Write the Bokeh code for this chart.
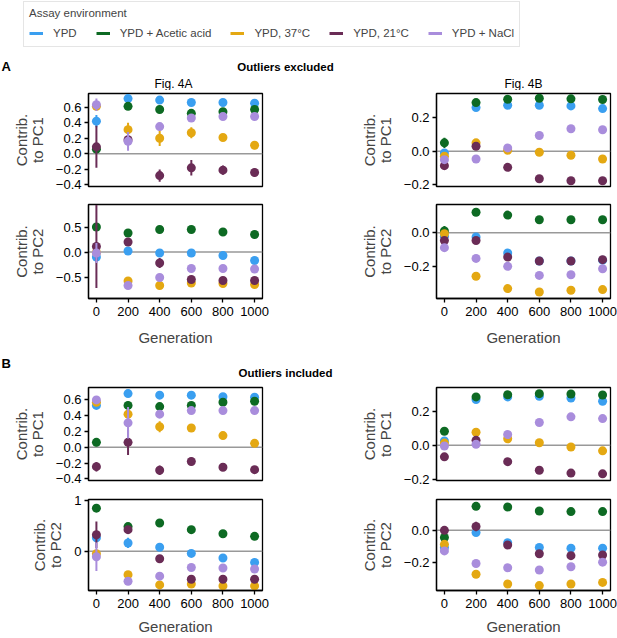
import numpy as np
from bokeh.plotting import figure
from bokeh.models import Range1d, FixedTicker, Span, Label, Legend, LegendItem, ColumnDataSource, Spacer
from bokeh.layouts import column, row
from bokeh.embed import file_html
from bokeh.resources import INLINE

FONT = "Liberation Sans"

# ---------------- data ----------------
generations = [0, 200, 400, 600, 800, 1000]
conditions = ["YPD", "YPD + Acetic acid", "YPD, 37°C", "YPD, 21°C", "YPD + NaCl"]
colors = ["#3a9ff0", "#0d6a23", "#e4a812", "#6a2c56", "#a98ddc"]
x_ticks = [0, 200, 400, 600, 800, 1000]
x_tick_labels = ["0", "200", "400", "600", "800", "1000"]

# Outliers excluded, Fig. 4A, PC1  (order: YPD, Acetic, 37C, 21C, NaCl)
excl_4A_pc1 = [[0.42, 0.71, 0.69, 0.66, 0.66, 0.65],
               [0.06, 0.61, 0.57, 0.52, 0.54, 0.57],
               [0.61, 0.31, 0.20, 0.27, 0.21, 0.11],
               [0.09, 0.18, -0.28, -0.18, -0.21, -0.24],
               [0.63, 0.16, 0.35, 0.46, 0.48, 0.48]]
excl_4A_pc1_err = [[0.08, 0.02, 0.02, 0.02, 0.02, 0.02],
                   [0.04, 0.04, 0.03, 0.03, 0.03, 0.03],
                   [0.05, 0.09, 0.10, 0.07, 0.04, 0.05],
                   [0.27, 0.05, 0.08, 0.10, 0.06, 0.05],
                   [0.08, 0.12, 0.05, 0.03, 0.03, 0.03]]
excl_4A_pc2 = [[-0.10, 0.02, -0.02, -0.02, -0.07, -0.17],
               [0.50, 0.38, 0.45, 0.45, 0.40, 0.35],
               [-0.01, -0.58, -0.67, -0.62, -0.63, -0.65],
               [0.11, 0.20, -0.22, -0.55, -0.57, -0.57],
               [-0.02, -0.67, -0.51, -0.33, -0.33, -0.34]]
excl_4A_pc2_err = [[0.05, 0.07, 0.03, 0.03, 0.03, 0.03],
                   [0.05, 0.06, 0.06, 0.03, 0.03, 0.03],
                   [0.03, 0.03, 0.03, 0.03, 0.03, 0.03],
                   [0.83, 0.05, 0.10, 0.03, 0.03, 0.03],
                   [0.20, 0.03, 0.03, 0.03, 0.03, 0.03]]
excl_4B_pc1 = [[-0.01, 0.26, 0.274, 0.274, 0.27, 0.254],
               [0.05, 0.29, 0.31, 0.316, 0.312, 0.308],
               [-0.03, 0.05, 0.006, -0.006, -0.024, -0.046],
               [-0.086, 0.03, -0.096, -0.164, -0.176, -0.176],
               [-0.05, -0.046, 0.02, 0.094, 0.134, 0.128]]
excl_4B_pc1_err = [[0.02, 0.01, 0.01, 0.01, 0.01, 0.01],
                   [0.03, 0.01, 0.01, 0.01, 0.01, 0.01],
                   [0.01, 0.01, 0.01, 0.01, 0.01, 0.01],
                   [0.015, 0.01, 0.01, 0.01, 0.01, 0.01],
                   [0.01, 0.01, 0.01, 0.01, 0.01, 0.01]]
excl_4B_pc2 = [[-0.02, -0.025, -0.118, -0.165, -0.165, -0.16],
               [0.01, 0.12, 0.103, 0.076, 0.076, 0.076],
               [-0.006, -0.254, -0.326, -0.346, -0.336, -0.332],
               [-0.045, -0.045, -0.142, -0.165, -0.165, -0.157],
               [-0.087, -0.15, -0.196, -0.249, -0.245, -0.21]]
excl_4B_pc2_err = [[0.01, 0.01, 0.01, 0.01, 0.01, 0.01],
                   [0.03, 0.01, 0.01, 0.01, 0.01, 0.01],
                   [0.01, 0.02, 0.01, 0.01, 0.01, 0.01],
                   [0.01, 0.02, 0.02, 0.01, 0.01, 0.01],
                   [0.02, 0.01, 0.01, 0.01, 0.01, 0.01]]

# Outliers included
incl_4A_pc1 = [[0.53, 0.68, 0.66, 0.66, 0.64, 0.634],
               [0.063, 0.53, 0.515, 0.53, 0.57, 0.583],
               [0.57, 0.42, 0.26, 0.245, 0.148, 0.05],
               [-0.245, 0.063, -0.29, -0.18, -0.253, -0.283],
               [0.60, 0.31, 0.42, 0.465, 0.465, 0.465]]
incl_4A_pc1_err = [[0.02, 0.02, 0.02, 0.02, 0.02, 0.02],
                   [0.05, 0.05, 0.03, 0.03, 0.03, 0.03],
                   [0.03, 0.03, 0.07, 0.03, 0.03, 0.03],
                   [0.06, 0.16, 0.06, 0.05, 0.03, 0.03],
                   [0.03, 0.20, 0.03, 0.03, 0.03, 0.03]]
incl_4A_pc2 = [[0.26, 0.16, 0.077, -0.045, -0.135, -0.22],
               [0.84, 0.48, 0.55, 0.42, 0.34, 0.29],
               [-0.05, -0.46, -0.66, -0.645, -0.68, -0.68],
               [0.32, 0.42, -0.15, -0.55, -0.55, -0.55],
               [-0.11, -0.59, -0.49, -0.32, -0.33, -0.35]]
incl_4A_pc2_err = [[0.03, 0.10, 0.03, 0.03, 0.03, 0.03],
                   [0.07, 0.04, 0.03, 0.03, 0.03, 0.03],
                   [0.03, 0.03, 0.03, 0.03, 0.03, 0.03],
                   [0.26, 0.04, 0.07, 0.03, 0.03, 0.03],
                   [0.28, 0.03, 0.03, 0.03, 0.03, 0.03]]
incl_4B_pc1 = [[0.025, 0.267, 0.282, 0.286, 0.276, 0.257],
               [0.082, 0.282, 0.295, 0.301, 0.299, 0.293],
               [0.013, 0.076, 0.038, 0.015, -0.01, -0.032],
               [-0.067, 0.029, -0.095, -0.145, -0.162, -0.166],
               [-0.004, 0.006, 0.063, 0.133, 0.166, 0.156]]
incl_4B_pc1_err = [[0.01, 0.01, 0.01, 0.01, 0.01, 0.01],
                   [0.01, 0.01, 0.01, 0.01, 0.01, 0.01],
                   [0.01, 0.01, 0.01, 0.01, 0.01, 0.01],
                   [0.02, 0.01, 0.01, 0.01, 0.01, 0.01],
                   [0.01, 0.01, 0.01, 0.01, 0.01, 0.01]]
incl_4B_pc2 = [[-0.108, -0.014, -0.078, -0.108, -0.112, -0.112],
               [-0.045, 0.151, 0.147, 0.122, 0.118, 0.118],
               [-0.088, -0.276, -0.337, -0.347, -0.337, -0.327],
               [0.0, 0.024, -0.092, -0.147, -0.159, -0.155],
               [-0.129, -0.208, -0.235, -0.249, -0.229, -0.2]]
incl_4B_pc2_err = [[0.01, 0.01, 0.01, 0.01, 0.01, 0.01],
                   [0.01, 0.01, 0.01, 0.01, 0.01, 0.01],
                   [0.01, 0.01, 0.01, 0.01, 0.01, 0.01],
                   [0.02, 0.03, 0.02, 0.01, 0.01, 0.01],
                   [0.01, 0.01, 0.01, 0.01, 0.01, 0.01]]

# y-axis ranges and ticks per panel
yr_excl_4A_pc1 = (-0.42, 0.775)
yr_excl_4A_pc2 = (-0.93, 0.95)
yr_excl_4B_pc1 = (-0.21, 0.344)
yr_excl_4B_pc2 = (-0.384, 0.165)
yr_incl_4A_pc1 = (-0.42, 0.757)
yr_incl_4A_pc2 = (-0.77, 1.01)
yr_incl_4B_pc1 = (-0.205, 0.337)
yr_incl_4B_pc2 = (-0.378, 0.194)

ticks_pc1_4A = [-0.4, -0.2, 0.0, 0.2, 0.4, 0.6]
labels_pc1_4A = ["\u22120.4", "\u22120.2", "0.0", "0.2", "0.4", "0.6"]
ticks_excl_pc2_4A = [-0.5, 0.0, 0.5]
labels_excl_pc2_4A = ["\u22120.5", "0.0", "0.5"]
ticks_4B_pc1 = [-0.2, 0.0, 0.2]
labels_4B_pc1 = ["\u22120.2", "0.0", "0.2"]
ticks_4B_pc2 = [-0.2, 0.0]
labels_4B_pc2 = ["\u22120.2", "0.0"]
ticks_incl_pc2_4A = [0, 1]
labels_incl_pc2_4A = ["0", "1"]

PAGE_W = 617
LEG_LEFT = 23


def panel(vals, errs, yr, yticks, ylabels, ylabel, show_x, left_col, height, bt, bb, xstand=10):
    if left_col:
        width, bl, br = 346, 88, 84
    else:
        width, bl, br = 271, 90, 7
    p = figure(width=width, height=height, title=None,
               x_range=Range1d(-50, 1050), y_range=Range1d(*yr),
               output_backend="svg", toolbar_location=None,
               min_border_left=bl, min_border_right=br,
               min_border_top=bt, min_border_bottom=bb)
    p.grid.visible = False
    p.outline_line_color = "black"
    p.outline_line_width = 1.3
    p.outline_line_alpha = 1.0
    p.background_fill_color = "white"
    p.border_fill_color = "white"

    p.add_layout(Span(location=0, dimension="width", line_color="#999999",
                      line_width=1.5, level="underlay"))

    for vs, es, c in zip(vals, errs, colors):
        src = ColumnDataSource(dict(
            x=generations, y=vs,
            lo=[v - e for v, e in zip(vs, es)],
            hi=[v + e for v, e in zip(vs, es)]))
        p.segment(x0="x", y0="lo", x1="x", y1="hi", source=src,
                  line_color=c, line_width=2)
        p.scatter(x="x", y="y", source=src, size=9, fill_color=c,
                  line_color=None)

    ya = p.yaxis[0]
    ya.ticker = FixedTicker(ticks=yticks)
    ya.major_label_overrides = {t: l for t, l in zip(yticks, ylabels)}
    ya.axis_label = ylabel
    ya.axis_label_text_font = FONT
    ya.axis_label_text_font_size = "15px"
    ya.axis_label_text_font_style = "normal"
    ya.axis_label_text_line_height = 0.95
    ya.axis_label_standoff = 7
    ya.major_label_text_font = FONT
    ya.major_label_text_font_size = "13px"
    ya.major_label_text_color = "black"
    ya.major_label_standoff = 3
    ya.major_tick_out = 4
    ya.major_tick_in = 0
    ya.major_tick_line_width = 1.3
    ya.minor_tick_line_color = None
    ya.axis_line_width = 1.3

    xa = p.xaxis[0]
    if show_x:
        xa.ticker = FixedTicker(ticks=x_ticks)
        xa.major_label_overrides = {t: l for t, l in zip(x_ticks, x_tick_labels)}
        xa.axis_label = "Generation"
        xa.axis_label_text_font = FONT
        xa.axis_label_text_font_size = "15px"
        xa.axis_label_text_font_style = "normal"
        xa.axis_label_standoff = xstand
        xa.major_label_text_font = FONT
        xa.major_label_text_font_size = "13px"
        xa.major_label_text_color = "black"
        xa.major_label_standoff = 4
        xa.major_tick_out = 4
        xa.major_tick_in = 0
        xa.major_tick_line_width = 1.3
        xa.minor_tick_line_color = None
        xa.axis_line_width = 1.3
    else:
        xa.visible = False
    return p


def header(h, texts):
    p = figure(width=PAGE_W, height=h, title=None,
               x_range=Range1d(0, PAGE_W), y_range=Range1d(0, h),
               output_backend="svg", toolbar_location=None,
               min_border=0, min_border_left=0, min_border_right=0,
               min_border_top=0, min_border_bottom=0,
               x_axis_type=None, y_axis_type=None)
    p.outline_line_color = None
    p.background_fill_color = "white"
    p.border_fill_color = "white"
    for txt, x, y, bold, size, align in texts:
        p.add_layout(Label(x=x, y=h - y, x_units="screen", y_units="screen",
                           text=txt, text_font=FONT,
                           text_font_size=size,
                           text_font_style="bold" if bold else "normal",
                           text_align=align, text_baseline="middle",
                           text_color="black"))
    return p


# ---------------- legend band ----------------
leg = figure(width=PAGE_W - LEG_LEFT, height=49, title=None,
             x_range=Range1d(0, 1), y_range=Range1d(0, 1),
             output_backend="svg", toolbar_location=None,
             min_border=0, min_border_left=0, min_border_right=0, min_border_top=1,
             min_border_bottom=0, x_axis_type=None, y_axis_type=None)
leg.outline_line_color = None
leg.background_fill_color = "white"
leg.border_fill_color = "white"
items = []
nan2 = np.array([np.nan, np.nan])
for name, c in zip(conditions, colors):
    r = leg.line(x=nan2, y=nan2, line_color=c, line_width=3)
    items.append(LegendItem(label=name, renderers=[r]))
legend = Legend(items=items, orientation="horizontal", location="top_left",
                title="Assay environment", title_text_font=FONT,
                title_text_font_size="11.5px", title_text_font_style="normal",
                title_standoff=5,
                label_text_font=FONT, label_text_font_size="11.5px",
                glyph_width=14, glyph_height=12, label_height=17,
                label_standoff=10, spacing=19, padding=5, margin=0,
                border_line_color="#cccccc", border_line_width=1,
                background_fill_color="white", background_fill_alpha=1.0)
leg.add_layout(legend)
legend_band = row(Spacer(width=LEG_LEFT, height=49), leg)

hdrA = header(41, [("A", 1, 17, True, "13px", "left"),
                   ("Outliers excluded", 285, 17, True, "11.5px", "center"),
                   ("Fig. 4A", 173, 34, False, "12px", "center"),
                   ("Fig. 4B", 523, 34, False, "12px", "center")])
hdrB = header(36, [("B", 1, 15, True, "13px", "left"),
                   ("Outliers included", 285, 24, True, "11.5px", "center")])

YL1 = "Contrib.\nto PC1"
YL2 = "Contrib.\nto PC2"

a1 = panel(excl_4A_pc1, excl_4A_pc1_err, yr_excl_4A_pc1, ticks_pc1_4A, labels_pc1_4A, YL1, False, True, 105, 3, 9)
a2 = panel(excl_4B_pc1, excl_4B_pc1_err, yr_excl_4B_pc1, ticks_4B_pc1, labels_4B_pc1, YL1, False, False, 105, 3, 9)
a3 = panel(excl_4A_pc2, excl_4A_pc2_err, yr_excl_4A_pc2, ticks_excl_pc2_4A, labels_excl_pc2_4A, YL2, True, True, 153, 9, 50)
a4 = panel(excl_4B_pc2, excl_4B_pc2_err, yr_excl_4B_pc2, ticks_4B_pc2, labels_4B_pc2, YL2, True, False, 153, 9, 50)
b1 = panel(incl_4A_pc1, incl_4A_pc1_err, yr_incl_4A_pc1, ticks_pc1_4A, labels_pc1_4A, YL1, False, True, 106, 3, 10)
b2 = panel(incl_4B_pc1, incl_4B_pc1_err, yr_incl_4B_pc1, ticks_4B_pc1, labels_4B_pc1, YL1, False, False, 106, 3, 10)
b3 = panel(incl_4A_pc2, incl_4A_pc2_err, yr_incl_4A_pc2, ticks_incl_pc2_4A, labels_incl_pc2_4A, YL2, True, True, 147, 9, 45, 7)
b4 = panel(incl_4B_pc2, incl_4B_pc2_err, yr_incl_4B_pc2, ticks_4B_pc2, labels_4B_pc2, YL2, True, False, 147, 9, 45, 7)

layout = column(legend_band, hdrA, row(a1, a2), row(a3, a4), hdrB, row(b1, b2), row(b3, b4))

open("out.html", "w").write(file_html(layout, INLINE))
